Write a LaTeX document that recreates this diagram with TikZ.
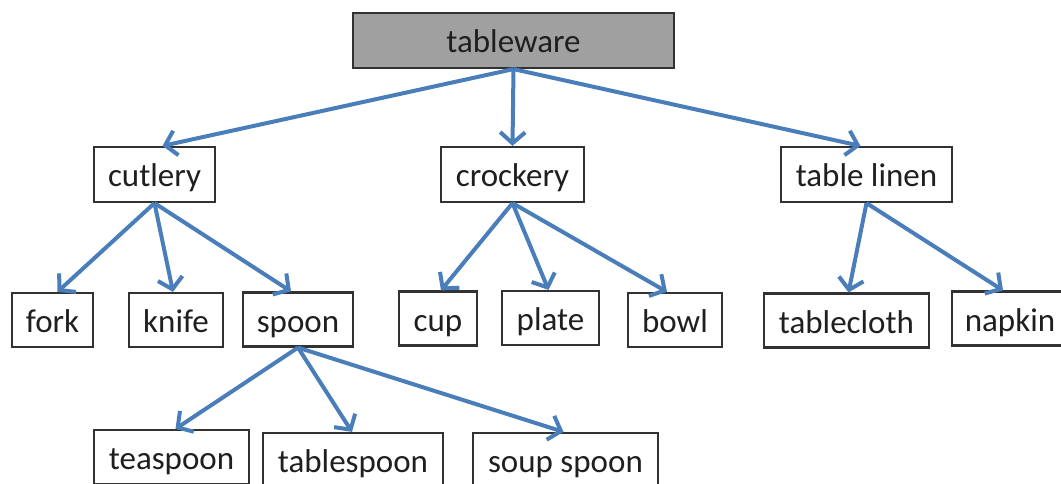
\documentclass[tikz,border=0pt]{standalone}
\usepackage{fontspec}
\setmainfont{Carlito}
\usetikzlibrary{arrows.meta,calc}
\definecolor{linkblue}{RGB}{74,126,187}
\definecolor{boxline}{RGB}{50,50,50}
\definecolor{rootfill}{RGB}{160,160,160}
\begin{document}
\begin{tikzpicture}[x=1pt,y=-1pt,
  box/.style={draw=boxline,line width=2.2pt,fill=white,rectangle,inner sep=0pt,
    minimum height=54pt,text height=30pt,text depth=5pt,
    font=\fontsize{33}{38}\selectfont,text=black!88},
  link/.style={draw=linkblue,line width=4pt,
    -{Straight Barb[length=11pt,width=25pt]}}]
\clip (0,0) rectangle (1061,484);
\fill[white] (0,0) rectangle (1061,484);

% root
\node[box,fill=rootfill,minimum width=321pt,minimum height=55pt] (tableware) at (513.5,40.5) {tableware};

% second level
\node[box,minimum width=121pt,minimum height=55pt] (cutlery) at (154.5,174.5) {cutlery};
\node[box,minimum width=143pt,minimum height=55pt] (crockery) at (512.5,174.5) {crockery};
\node[box,minimum width=171pt,minimum height=55pt] (linen) at (866.5,174.5) {table linen};

% third level
\node[box,minimum width=81pt] (fork) at (52.5,320) {fork};
\node[box,minimum width=94pt] (knife) at (176,320) {knife};
\node[box,minimum width=110pt] (spoon) at (298,319.5) {spoon};
\node[box,minimum width=78pt] (cup) at (438,318.5) {cup};
\node[box,minimum width=97pt] (plate) at (550.5,318) {plate};
\node[box,minimum width=94pt] (bowl) at (675,320) {bowl};
\node[box,minimum width=165pt] (tablecloth) at (846.5,320.5) {tablecloth};
\node[box,minimum width=116pt] (napkin) at (1010,318.5) {napkin};

% fourth level
\node[box,minimum width=155pt] (teaspoon) at (171.5,457) {teaspoon};
\node[box,minimum width=180pt] (tablespoon) at (353,460) {tablespoon};
\node[box,minimum width=185pt] (soupspoon) at (565.5,460) {soup spoon};

% connectors
\draw[link] (tableware.south) -- ($(cutlery.north)+(8,0)$);
\draw[link] (tableware.south) -- (crockery.north);
\draw[link] (tableware.south) -- ($(linen.north)+(-6,0)$);

\draw[link] (cutlery.south) -- ($(fork.north)+(5,0)$);
\draw[link] (cutlery.south) -- ($(knife.north)+(-3,0)$);
\draw[link] (cutlery.south) -- ($(spoon.north)+(-7,0)$);

\draw[link] (crockery.south) -- ($(cup.north)+(3,0)$);
\draw[link] (crockery.south) -- ($(plate.north)+(-2,0)$);
\draw[link] (crockery.south) -- ($(bowl.north)+(-8,0)$);

\draw[link] (linen.south) -- ($(tablecloth.north)+(2,0)$);
\draw[link] (linen.south) -- ($(napkin.north)+(-7,0)$);

\draw[link] (spoon.south) -- ($(teaspoon.north)+(4,0)$);
\draw[link] (spoon.south) -- ($(tablespoon.north)+(-1,0)$);
\draw[link] (spoon.south) -- ($(soupspoon.north)+(-2,0)$);
\end{tikzpicture}
\end{document}
